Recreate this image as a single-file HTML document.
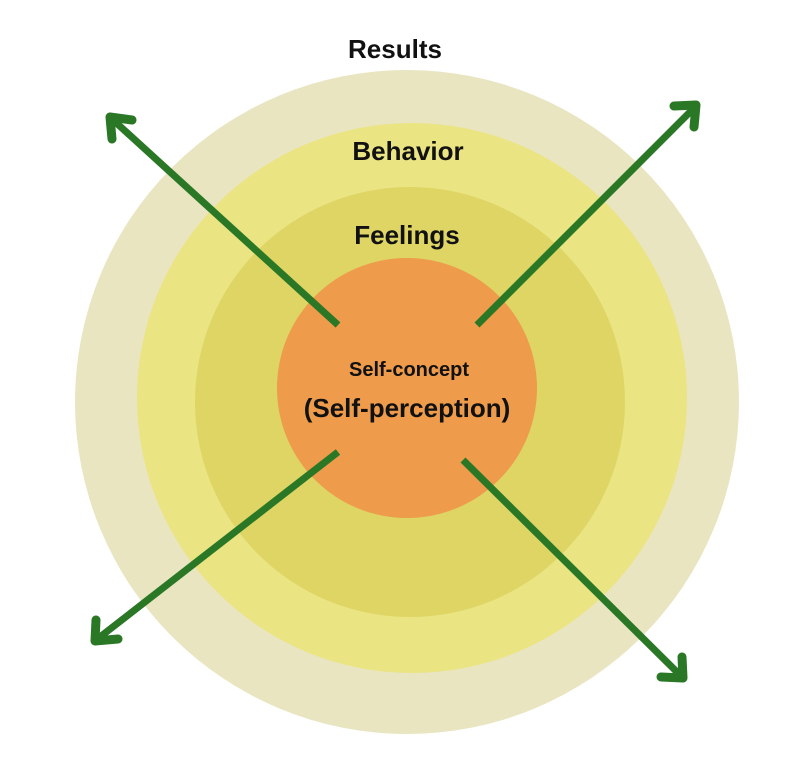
<!DOCTYPE html>
<html><head><meta charset="utf-8"><style>
html,body{margin:0;padding:0;background:#fff;}
svg{display:block;}
text{font-family:"Liberation Sans",sans-serif;font-weight:bold;fill:#111;text-anchor:middle;}
</style></head><body>
<svg width="809" height="780" viewBox="0 0 809 780" xmlns="http://www.w3.org/2000/svg">
<circle cx="407" cy="402" r="332" fill="#e9e5c1"/>
<circle cx="412" cy="398" r="275" fill="#ebe482"/>
<circle cx="410" cy="402" r="215" fill="#ded565"/>
<circle cx="407" cy="388" r="130" fill="#ee9b4b"/>
<g stroke="#2a7726" stroke-width="7" fill="none">
<line x1="338" y1="325" x2="112" y2="119"/>
<line x1="477" y1="325" x2="694" y2="108"/>
<line x1="338" y1="452" x2="96" y2="640"/>
<line x1="463" y1="460" x2="681" y2="676"/>
</g>
<g stroke="#2a7726" stroke-width="9" fill="none" stroke-linecap="round" stroke-linejoin="round">
<polyline points="112,139 110,117 132,120"/>
<polyline points="674,106 696,105 694,127"/>
<polyline points="96,620 95,641 118,639"/>
<polyline points="661,677 683,678 682,657"/>
</g>
<text x="395" y="58" font-size="26">Results</text>
<text x="408" y="160" font-size="26">Behavior</text>
<text x="407" y="244" font-size="26">Feelings</text>
<text x="409" y="376" font-size="20">Self-concept</text>
<text x="407" y="417" font-size="26">(Self-perception)</text>
</svg>
</body></html>
